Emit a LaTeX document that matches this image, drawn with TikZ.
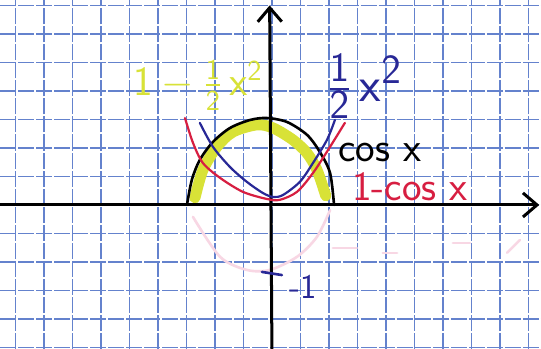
\documentclass[tikz,border=0pt]{standalone}
\usepackage{amsmath}
\usepackage{tikz}
\usetikzlibrary{
  arrows.meta,  % Straight Barb 箭头
  positioning   % 节点相对定位
}
\definecolor{gridblue}{RGB}{100,130,205}
\definecolor{penred}{RGB}{215,30,65}
\definecolor{penblue}{RGB}{40,40,150}
\definecolor{markeryellow}{RGB}{216,226,55}
\definecolor{erasedpink}{RGB}{248,215,228}
\tikzset{
  grid line/.style={
    gridblue,
    line width=0.7pt,
    dash pattern=on 8pt off 1pt
  },
  axis line/.style={
    -{Straight Barb[length=7pt,width=12pt]},
    line width=1.5pt,
    color=black
  },
  pen curve/.style={
    line width=1.1pt,
    line cap=round
  },
  marker curve/.style={
    line width=5.5pt,
    color=markeryellow,
    line cap=round
  },
  erased trace/.style={
    erasedpink,
    line width=1.3pt,
    line cap=round
  },
  pen label/.style={
    font=\huge\sffamily,
    inner sep=0pt
  }
}

\begin{document}
\begin{tikzpicture}[x=0.5cm, y=0.5cm]
    \fill[white] (-9.54,-5.05) rectangle (9.44,7.19);
    \useasboundingbox (-9.54,-5.05) rectangle (9.44,7.19);

    % 1. 方格纸
    \foreach \gx in {-9,...,9}
      \draw[grid line] (\gx,-5.05) -- (\gx,7.19);
    \foreach \gy in {-5,...,7}
      \draw[grid line] (-9.54,\gy) -- (9.44,\gy);

    % 2. 擦掉的粉色痕迹 (x 轴下方)
    \draw[erased trace] plot[smooth] coordinates {
      (-2.77,-0.42) (-1.82,-1.82) (-0.88,-2.28) (-0.07,-2.28)
      (0.88,-1.82) (1.58,-1.12) (2.04,-0.18)};
    \foreach \sx/\sy/\ex/\ey in {2.14/-1.51/2.98/-1.51, 3.89/-1.68/4.39/-1.68,
        6.35/-1.33/6.95/-1.33, 8.25/-1.68/8.7/-1.23}
      \draw[erased trace] (\sx,\sy) -- (\ex,\ey);

    % 3. 荧光笔: 1 - x^2/2
    \draw[marker curve] plot[smooth] coordinates {
      (-2.70,0.25) (-2.42,1.23) (-1.93,2.04) (-1.37,2.56) (-0.53,2.81)
      (0.04,2.70) (0.74,2.28) (1.23,1.82) (1.58,1.23) (1.89,0.32)};

    % 4. 坐标轴
    \coordinate (xL) at (-9.54,0);
    \coordinate (xR) at (9.38,0);
    \coordinate (yB) at (0,-5.05);
    \coordinate (yT) at (-0.08,7.0);
    \draw[axis line] (xL) -- (xR);
    \draw[axis line] (yB) -- (yT);

    % 刻度 -1
    \draw[penblue, line width=1.3pt, line cap=round] (-0.35,-2.35) -- (0.35,-2.46);

    % 5. cos x (黑), 1 - cos x (红), x^2/2 (蓝)
    \draw[pen curve, black, line width=1.3pt] plot[smooth] coordinates {
      (-2.98,0) (-2.81,0.88) (-2.53,1.58) (-2.07,2.21) (-1.47,2.70)
      (-0.77,2.98) (-0.18,3.05) (0.53,2.91) (1.23,2.46) (1.68,1.86)
      (2.04,1.12) (2.18,0)};
    \draw[pen curve, penred] plot[smooth] coordinates {
      (-3.05,3.05) (-2.77,2.18) (-2.42,1.47) (-1.82,0.95) (-1.02,0.46)
      (-0.18,0.21) (0.28,0.18) (0.88,0.46) (1.44,1.12) (2.04,2.04)
      (2.56,2.88)};
    \draw[pen curve, penblue] plot[smooth] coordinates {
      (-2.53,2.88) (-2.07,2.04) (-1.47,1.33) (-0.88,0.81) (-0.32,0.42)
      (0.04,0.28) (0.39,0.35) (0.98,0.81) (1.44,1.47) (1.93,2.28)
      (2.21,2.98)};

    % 6. 标签
    \node[pen label, black] (cosLabel) at (3.79,1.85) {cos x};
    \node[pen label, penred] (oneMinusCos) at (4.84,0.63) {1-cos x};
    \node[pen label, penblue, font=\Huge\sffamily] (halfSquare) at (3.25,4.15)
      {$\frac{\mathsf{1}}{\mathsf{2}}\,\mathsf{x}^{\mathsf{2}}$};
    \node[pen label, markeryellow] (taylorLabel) at (-2.6,4.2)
      {$\mathsf{1}-\frac{\mathsf{1}}{\mathsf{2}}\,\mathsf{x}^{\mathsf{2}}$};
    \node[font=\LARGE\sffamily, penblue, inner sep=0pt] (minusOne) at (1.09,-2.88) {-1};
\end{tikzpicture}
\end{document}
